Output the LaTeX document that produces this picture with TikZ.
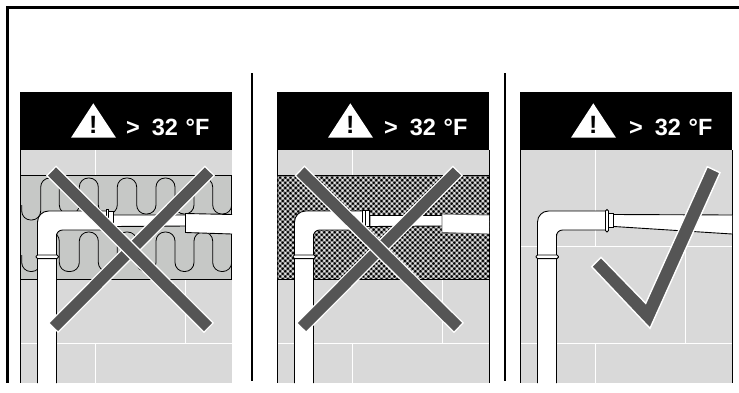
\documentclass[tikz,border=0pt]{standalone}
\usepackage{fontspec}
\setmainfont{Liberation Sans}
\definecolor{wallgrey}{HTML}{D9D9D9}
\definecolor{bandgrey}{HTML}{C6C8C6}
\definecolor{markgrey}{HTML}{555555}
\tikzset{
  x=1pt,y=-1pt,
  frameline/.style={black,line width=2.6pt},
  tile/.style={white,line width=0.9pt},
  pipeline/.style={fill=white,draw=black,line width=0.9pt},
  coil/.style={draw=black,line width=0.8pt,rounded corners=9pt},
  barhalo/.style={white,line width=14.2pt,shorten >=-1.4pt,shorten <=-1.4pt},
  barcore/.style={markgrey,line width=11.5pt},
  tempt/.style={text=white,font=\bfseries\fontsize{23.5}{23.5}\selectfont,inner sep=0pt,anchor=base west},
  warnt/.style={text=black,font=\bfseries\fontsize{25}{25}\selectfont,inner sep=0pt,anchor=base},
}
\newcommand{\panelbase}[3]{% #1 triangle x-shift, #2 text x-shift, #3 name prefix
  \fill[wallgrey] (20,150) rectangle (232,383);
  \fill[black] (20,92) rectangle (232,150);
  \fill[white] (93.3+#1,103.3) -- (116+#1,137.7) -- (71+#1,137.7) -- cycle;
  \node[warnt] (#3w) at (93.3+#1,133.5) {!};
  \node[tempt] (#3t) at (126+#2,135) {>\hspace{12pt}32\hspace{7.6pt}°F};
  \draw[tile] (95,150) -- (95,246);
  \draw[tile] (20,246) -- (232,246);
  \draw[tile] (185,246) -- (185,343);
  \draw[tile] (20,343) -- (232,343);
  \draw[tile] (95,343) -- (95,383);
}
\newcommand{\elbow}{%
  \fill[white] (37.5,383) -- (37.5,222) [rounded corners=11pt] -- (37.5,211) -- (60,211) [sharp corners] -- (107,211) -- (107,230) -- (62,230) [rounded corners=6pt] -- (56.5,230) -- (56.5,240) [sharp corners] -- (56.5,383) -- cycle;
  \draw[black,line width=0.9pt] (37.5,383) -- (37.5,222) [rounded corners=11pt] -- (37.5,211) -- (60,211) [sharp corners] -- (107,211);
  \draw[black,line width=0.9pt] (107,230) -- (62,230) [rounded corners=6pt] -- (56.5,230) -- (56.5,240) [sharp corners] -- (56.5,383);
  \draw[pipeline,rounded corners=1.5pt] (36,255) rectangle (58.5,258.6);
}
\begin{document}
\begin{tikzpicture}
\useasboundingbox (0,0) rectangle (739,392);
\fill[white] (0,0) rectangle (739,392);
% outer frame
\draw[frameline] (739,7.4) -- (7.2,7.4) -- (7.2,383);
\draw[black,line width=2pt] (252,73) -- (252,381);
\draw[black,line width=2pt] (505,73) -- (505,381);

% ---------- panel 1
\begin{scope}
  \panelbase{0}{0}{a}
  \draw[black,line width=0.8pt] (20.5,150) -- (20.5,383);
  \filldraw[fill=bandgrey,draw=black,line width=0.8pt] (20.5,175) rectangle (231.5,279);
  \begin{scope}
    \clip (20.5,175) rectangle (231.5,279);
    \draw[coil] (21.7,205) -- (21.7,220) -- (40.7,220) -- (40.7,178) -- (59.3,178) -- (59.3,214) -- (79.3,214) -- (79.3,178) -- (98.3,178) -- (98.3,214) -- (117.3,214) -- (117.3,178) -- (136.7,178) -- (136.7,214) -- (156,214) -- (156,178) -- (175,178) -- (175,214) -- (194,214) -- (194,178) -- (212.7,178) -- (212.7,214) -- (231.7,214) -- (231.7,205);
    \draw[coil] (21.7,255) -- (21.7,271.5) -- (40.7,271.5) -- (40.7,232) -- (59.3,232) -- (59.3,271.5) -- (79.3,271.5) -- (79.3,232) -- (98.3,232) -- (98.3,271.5) -- (117.3,271.5) -- (117.3,232) -- (136.7,232) -- (136.7,271.5) -- (156,271.5) -- (156,232) -- (175,232) -- (175,271.5) -- (194,271.5) -- (194,232) -- (212.7,232) -- (212.7,271.5) -- (231.7,271.5) -- (231.7,255);
  \end{scope}
  \elbow
  \draw[pipeline] (113,215) -- (186,215) -- (186,226) -- (113,226.5) -- cycle;
  \draw[pipeline] (106,209.5) rectangle (108.5,229);
  \draw[pipeline] (108.5,211) rectangle (113,229);
  \fill[white] (185.5,213.5) -- (232,214.5) -- (232,234) -- (185.5,232.5) -- cycle;
  \draw[black,line width=0.9pt] (232,214.5) -- (185.5,213.5) -- (185.5,232.5) -- (232,234);
  \coordinate (b1a) at (209,171.5); \coordinate (b1b) at (54,327);
  \coordinate (b2a) at (52,171.5); \coordinate (b2b) at (208,327);
  \draw[barhalo] (b1a) -- (b1b);
  \draw[barcore] (b1a) -- (b1b);
  \draw[barhalo] (b2a) -- (b2b);
  \draw[barcore] (b2a) -- (b2b);
\end{scope}

% ---------- panel 2
\begin{scope}[shift={(257,0)}]
  \panelbase{0}{1}{b}
  \draw[black,line width=0.8pt] (20.5,150) -- (20.5,383);
  \draw[black,line width=0.8pt] (232,150) -- (232,383);
  \fill[black!50] (20.5,175) rectangle (232,279);
  \begin{scope}
    \clip (20.5,175) rectangle (232,279);
    \fill[black] foreach \i in {0,...,41} { foreach \j in {0,...,21} {
      (20.5+\i*5.2,175+\j*5.2) circle[radius=1.35pt]
      (23.1+\i*5.2,177.6+\j*5.2) circle[radius=1.35pt] } };
    \fill[white!90!black] foreach \i in {0,...,41} { foreach \j in {0,...,21} {
      (23.1+\i*5.2,175+\j*5.2) circle[radius=1.25pt]
      (20.5+\i*5.2,177.6+\j*5.2) circle[radius=1.25pt] } };
  \end{scope}
  \draw[black,line width=0.8pt] (20.5,175) -- (232,175) (20.5,279) -- (232,279);
  \elbow
  \draw[pipeline] (113,215.5) -- (186,215.5) -- (186,226) -- (113,226.5) -- cycle;
  \draw[pipeline] (105.5,210) rectangle (108.5,226);
  \draw[pipeline] (108.5,210) rectangle (112.5,226);
  \fill[white] (185,214) -- (232,215) -- (232,234) -- (185,232.5) -- cycle;
  \draw[black!60,line width=0.9pt] (232,215) -- (185,214) -- (185,232.5) -- (232,234);
  \coordinate (c1a) at (200,171.5); \coordinate (c1b) at (45,327);
  \coordinate (c2a) at (43.5,171.5); \coordinate (c2b) at (201,327);
  \draw[barhalo] (c1a) -- (c1b);
  \draw[barcore] (c1a) -- (c1b);
  \draw[barhalo] (c2a) -- (c2b);
  \draw[barcore] (c2a) -- (c2b);
\end{scope}

% ---------- panel 3
\begin{scope}[shift={(500,0)}]
  \panelbase{0}{3}{c}
  \draw[black,line width=0.8pt] (20.5,150) -- (20.5,383);
  \draw[black,line width=1.6pt] (232.4,150) -- (232.4,383);
  \elbow
  \fill[white] (114,214.5) -- (232,215) -- (232,234) -- (114,226.5) -- cycle;
  \draw[black,line width=0.9pt] (114,214.5) -- (232,215) (114,226.5) -- (232,234);
  \draw[pipeline] (107.5,213) rectangle (113.5,227.5);
  \draw[pipeline,rounded corners=1.5pt] (105.5,209.5) rectangle (108.5,232);
  \fill[markgrey,draw=white,line width=1.4pt] (207.3,166.7) -- (220,172.7) -- (150,328.3) -- (91.7,266.7) -- (101,257.3) -- (145.7,303.3) -- cycle;
\end{scope}
\end{tikzpicture}
\end{document}
